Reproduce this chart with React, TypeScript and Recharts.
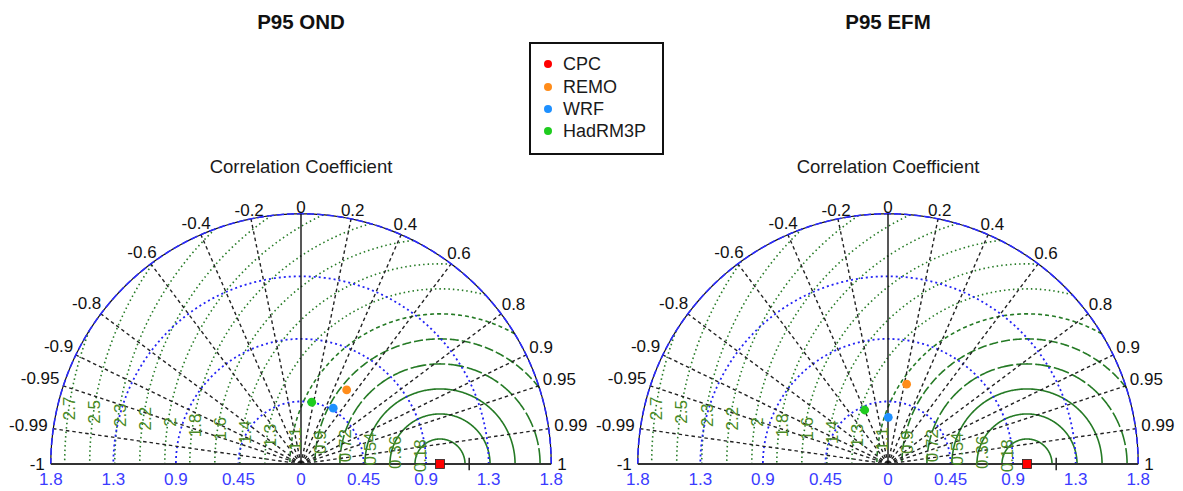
import React from 'react';
import { ComposedChart, Scatter, XAxis, YAxis } from 'recharts';

const FONT = "'Liberation Sans', Arial, Helvetica, sans-serif";

// ---- data ----
const modelNames = ['CPC', 'REMO', 'WRF', 'HadRM3P'];
const modelColors = ['#ff0000', '#ff8c1a', '#1e90ff', '#1fcc1f'];
const ondStd = [1.0, 0.626, 0.464, 0.451];
const ondCorr = [1.0, 0.525, 0.5, 0.171];
const efmStd = [1.0, 0.59, 0.336, 0.423];
const efmCorr = [1.0, 0.227, 0.006, -0.396];

const panelTitles = ['P95 OND', 'P95 EFM'];
const corrAxisTitle = 'Correlation Coefficient';

const sdTicks = [0, 0.45, 0.9, 1.35, 1.8];
const sdTickLabels = ['0', '0.45', '0.9', '1.3', '1.8'];
const sdMax = 1.8;
const refStd = 1.0;
const refTick = 1.21;

const corrTicks = [-1, -0.99, -0.95, -0.9, -0.8, -0.6, -0.4, -0.2, 0, 0.2, 0.4, 0.6, 0.8, 0.9, 0.95, 0.99, 1];
const corrTickLabels = ['-1', '-0.99', '-0.95', '-0.9', '-0.8', '-0.6', '-0.4', '-0.2', '0', '0.2', '0.4', '0.6', '0.8', '0.9', '0.95', '0.99', '1'];

const rmsLevels = [0.18, 0.36, 0.54, 0.72, 0.9, 1.08, 1.26, 1.44, 1.62, 1.8, 1.98, 2.16, 2.34, 2.52, 2.7];
const rmsLabels = ['0.18', '0.36', '0.54', '0.72', '0.9', '1.1', '1.3', '1.4', '1.6', '1.8', '2', '2.2', '2.3', '2.5', '2.7'];

// ---- geometry ----
const K = 139; // px per unit
const W = 590;
const H = 491;
const XMAX = 2.1;
const YMAX = 2.0;
const YMIN = -0.18;
const originY = 464;
const plotW = 2 * XMAX * K;
const mX = (W - plotW) / 2;
const mTop = originY - YMAX * K;
const mBottom = H - mTop - (YMAX - YMIN) * K;
const originXs = [301, 888];

const GREEN = '#257a25';
const BLUE = '#2323f5';

const noShape = () => <g />;

function arcPts(cx: number, r: number, a0: number, a1: number, n = 240) {
  const pts: { x: number; y: number }[] = [];
  for (let i = 0; i <= n; i++) {
    const t = a0 + ((a1 - a0) * i) / n;
    pts.push({ x: cx + r * Math.cos(t), y: r * Math.sin(t) });
  }
  return pts;
}

function contourPts(rho: number) {
  // circle centered at reference, clipped to outer sd circle
  let t0 = 0;
  if (refStd + rho > sdMax) {
    const xi = (sdMax * sdMax - rho * rho + refStd * refStd) / (2 * refStd);
    const yi = Math.sqrt(Math.max(0, sdMax * sdMax - xi * xi));
    t0 = Math.atan2(yi, xi - refStd);
  }
  return arcPts(refStd, rho, t0, Math.PI, 240);
}

function contourDash(i: number) {
  if (i <= 2) return undefined;
  if (i === 3) return '16 3';
  if (i === 4) return '9 3';
  if (i === 5) return '4 3';
  return '1.5 3';
}

function textWidth(s: string, fs: number) {
  let w = 0;
  for (const ch of s) {
    if (ch === '.') w += 0.278;
    else if (ch === '-') w += 0.333;
    else w += 0.556;
  }
  return w * fs;
}

const makeText =
  (style: any, rotate = 0) =>
  (p: any) => {
    const { cx, cy, payload } = p;
    if (cx == null || cy == null) return <g />;
    return (
      <text
        x={cx}
        y={cy}
        textAnchor="middle"
        dominantBaseline="central"
        fontFamily={FONT}
        transform={rotate ? `rotate(${rotate} ${cx} ${cy})` : undefined}
        {...style}
      >
        {payload.label}
      </text>
    );
  };

const lineSeries = (key: string, data: any[], stroke: string, width: number, dash?: string) => (
  <Scatter
    key={key}
    data={data}
    line={{ stroke, strokeWidth: width, strokeDasharray: dash, fill: 'none' }}
    lineType="joint"
    shape={noShape}
    isAnimationActive={false}
  />
);

function Panel({ idx, std, corr }: { idx: number; std: number[]; corr: number[] }) {
  const left = originXs[idx] - (mX + XMAX * K);
  const items: React.ReactNode[] = [];

  // RMS contours
  rmsLevels.forEach((rho, i) => {
    items.push(lineSeries(`rms${i}`, contourPts(rho), GREEN, i <= 5 ? 1.6 : 1.6, contourDash(i)));
  });

  // blue sd arcs
  sdTicks
    .filter((s) => s > 0 && s < sdMax)
    .forEach((s, i) => {
      items.push(lineSeries(`sd${i}`, arcPts(0, s, 0, Math.PI, 200), BLUE, 1.8, '2 3'));
    });

  // correlation radial lines
  corrTicks
    .filter((c) => Math.abs(c) < 1 && c !== 0)
    .forEach((c, i) => {
      const th = Math.acos(c);
      items.push(
        lineSeries(
          `cr${i}`,
          [
            { x: 0, y: 0 },
            { x: sdMax * Math.cos(th), y: sdMax * Math.sin(th) },
          ],
          '#222',
          1.4,
          '3.5 3'
        )
      );
    });

  // outer arc
  items.push(lineSeries('outerK', arcPts(0, sdMax, 0, Math.PI, 300), '#111', 1.2));
  items.push(lineSeries('outerB', arcPts(0, sdMax, 0, Math.PI, 300), '#2a2aff', 1.6, '7 3'));

  // baseline & vertical
  items.push(lineSeries('base', [{ x: -sdMax, y: 0 }, { x: sdMax, y: 0 }], '#333', 2.2));
  items.push(lineSeries('vert', [{ x: 0, y: 0 }, { x: 0, y: sdMax }], '#111', 1.4));
  items.push(lineSeries('rtick', [{ x: refTick, y: -0.045 }, { x: refTick, y: 0.045 }], '#222', 1.5));

  // correlation labels
  const corrLabelData = corrTicks.map((c, i) => {
    const th = Math.acos(c);
    const hw = textWidth(corrTickLabels[i], 17) / 2;
    const r = sdMax + (6 + hw * Math.abs(c)) / K;
    return { x: r * Math.cos(th), y: r * Math.sin(th), label: corrTickLabels[i] };
  });
  items.push(
    <Scatter
      key="corrLbl"
      data={corrLabelData}
      shape={makeText({ fontSize: 17, fill: '#111' })}
      isAnimationActive={false}
    />
  );

  // sd axis tick labels (both sides)
  const sdLabelData: any[] = [];
  sdTicks.forEach((s, i) => {
    sdLabelData.push({ x: s, y: -0.115, label: sdTickLabels[i] });
    if (s > 0) sdLabelData.push({ x: -s, y: -0.115, label: sdTickLabels[i] });
  });
  items.push(
    <Scatter
      key="sdLbl"
      data={sdLabelData}
      shape={makeText({ fontSize: 17, fill: '#3b3bff' })}
      isAnimationActive={false}
    />
  );

  // RMS labels
  const rmsLabelData = rmsLevels.map((rho, i) => ({
    x: refStd - rho + 0.038,
    y: 0.035 + 0.135 * rho,
    label: rmsLabels[i],
  }));
  items.push(
    <Scatter
      key="rmsLbl"
      data={rmsLabelData}
      shape={makeText({ fontSize: 17, fill: '#4a8a26' }, -90)}
      isAnimationActive={false}
    />
  );

  // model points
  modelNames.forEach((m, i) => {
    const th = Math.acos(corr[i]);
    const d = [{ x: std[i] * Math.cos(th), y: std[i] * Math.sin(th) }];
    const color = modelColors[i];
    items.push(
      <Scatter
        key={`pt${m}`}
        name={m}
        data={d}
        isAnimationActive={false}
        shape={(p: any) =>
          i === 0 ? (
            <rect x={p.cx - 4.5} y={p.cy - 4.5} width={9} height={9} fill={color} stroke="#222" strokeWidth={0.8} />
          ) : (
            <circle cx={p.cx} cy={p.cy} r={4.4} fill={color} />
          )
        }
      />
    );
  });

  return (
    <div style={{ position: 'absolute', left, top: 0, width: W, height: H }}>
      <ComposedChart width={W} height={H} margin={{ top: mTop, right: mX, bottom: mBottom, left: mX }}>
        <XAxis type="number" dataKey="x" domain={[-XMAX, XMAX]} hide allowDataOverflow />
        <YAxis type="number" dataKey="y" domain={[YMIN, YMAX]} hide allowDataOverflow />
        {items}
      </ComposedChart>
      <div
        style={{
          position: 'absolute',
          left: 0,
          width: 2 * (mX + XMAX * K),
          top: 10,
          lineHeight: '24px',
          fontSize: 20.5,
          fontWeight: 'bold',
          textAlign: 'center',
          fontFamily: FONT,
          color: '#111',
        }}
      >
        {panelTitles[idx]}
      </div>
      <div
        style={{
          position: 'absolute',
          left: 0,
          width: 2 * (mX + XMAX * K),
          top: 156,
          lineHeight: '22px',
          fontSize: 18.5,
          textAlign: 'center',
          fontFamily: FONT,
          color: '#1a1a1a',
        }}
      >
        {corrAxisTitle}
      </div>
    </div>
  );
}

function Legend() {
  const rows = [64, 87, 109, 131];
  return (
    <div
      style={{
        position: 'absolute',
        left: 529,
        top: 42,
        width: 131,
        height: 109,
        border: '2px solid #111',
        background: '#fff',
      }}
    >
      {modelNames.map((m, i) => (
        <React.Fragment key={m}>
          <div
            style={{
              position: 'absolute',
              left: 548 - 529 - 2 - 4,
              top: rows[i] - 42 - 2 - 4,
              width: 8,
              height: 8,
              borderRadius: '50%',
              background: modelColors[i],
            }}
          />
          <div
            style={{
              position: 'absolute',
              left: 563 - 529 - 2,
              top: rows[i] - 42 - 2 - 11,
              lineHeight: '22px',
              fontSize: 18,
              fontFamily: FONT,
              color: '#1a1a1a',
              whiteSpace: 'nowrap',
            }}
          >
            {m}
          </div>
        </React.Fragment>
      ))}
    </div>
  );
}

export default function App() {
  return (
    <div style={{ position: 'absolute', left: 0, top: 0, width: 1183, height: 491, background: '#fff', overflow: 'hidden' }}>
      <Panel idx={0} std={ondStd} corr={ondCorr} />
      <Panel idx={1} std={efmStd} corr={efmCorr} />
      <Legend />
    </div>
  );
}
